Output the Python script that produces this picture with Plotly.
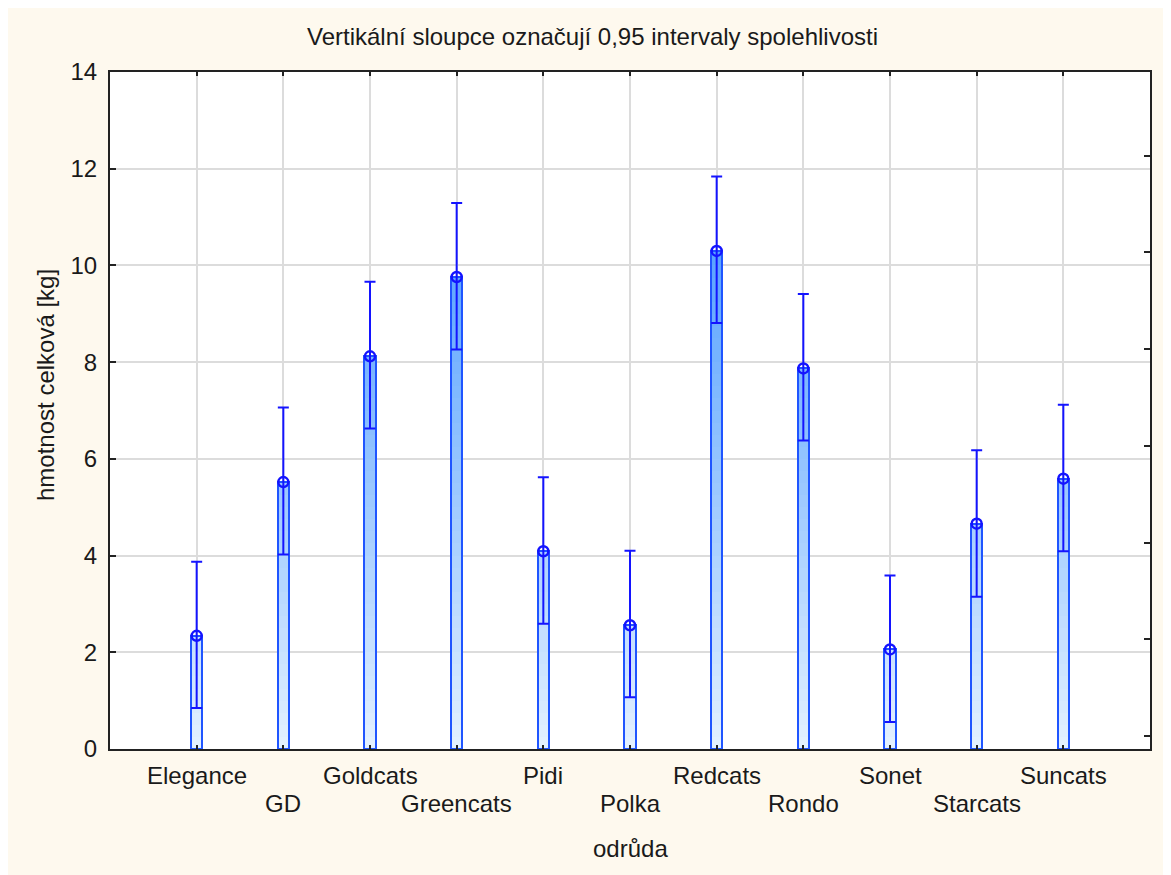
import plotly.graph_objects as go

# ---------------- data ----------------
categories = ["Elegance", "GD", "Goldcats", "Greencats", "Pidi", "Polka",
              "Redcats", "Rondo", "Sonet", "Starcats", "Suncats"]
means = [2.34, 5.52, 8.12, 9.76, 4.09, 2.56, 10.30, 7.87, 2.06, 4.66, 5.59]
upper = [3.87, 7.06, 9.66, 11.29, 5.62, 4.10, 11.84, 9.41, 3.59, 6.18, 7.12]
lower = [0.85, 4.02, 6.63, 8.26, 2.59, 1.07, 8.81, 6.38, 0.56, 3.15, 4.09]
y_ticks = [0, 2, 4, 6, 8, 10, 12, 14]
right_ticks = [0, 2, 4, 6, 8, 10, 12]

title_text = "Vertikální sloupce označují 0,95 intervaly spolehlivosti"
x_title = "odrůda"
y_title = "hmotnost celková [kg]"

# ---------------- layout geometry ----------------
OFF = 8                      # page body margin
W, H = 1171 - OFF, 875 - OFF
L, R, T, B = 110 - OFF, 21, 72 - OFF, 126
PW, PH = W - L - R, H - T - B


def px(x):
    """page x pixel -> paper coordinate"""
    return (x - OFF - L) / PW


def py(y):
    """page y pixel -> paper coordinate"""
    return (H - B - (y - OFF)) / PH


FONT = "Liberation Sans, Arial, sans-serif"
TXT = "#1a1a1a"
BLUE = "#1414ff"
EDGE = "#1f55ff"
CREAM = "#fef9ee"


def grad(v):
    t = max(0.0, min(1.0, v / 12.0))
    c0 = (228, 241, 255)
    c1 = (66, 150, 255)
    c = [round(a + (b - a) * t) for a, b in zip(c0, c1)]
    return "rgb(%d,%d,%d)" % tuple(c)


# gradient fill built as small stacked pieces of each bar
step = 0.25
seg_x, seg_base, seg_h, seg_col = [], [], [], []
for c, m in zip(categories, means):
    b = 0.0
    while b < m - 1e-9:
        h = min(step, m - b)
        seg_x.append(c)
        seg_base.append(b)
        seg_h.append(h + (0.02 if h == step else 0))
        seg_col.append(grad(b + h / 2))
        b += step

fig = go.Figure()

fig.add_trace(go.Bar(
    x=seg_x, y=seg_h, base=seg_base, width=0.13,
    marker=dict(color=seg_col, line=dict(width=0)),
    hoverinfo="skip", showlegend=False,
))

fig.add_trace(go.Bar(
    x=categories, y=means, width=0.13,
    marker=dict(color="rgba(0,0,0,0)", line=dict(color=EDGE, width=2)),
    showlegend=False,
))

fig.add_trace(go.Scatter(
    x=categories, y=means, mode="markers",
    marker=dict(symbol="circle-open", size=10, color=BLUE, line=dict(width=2.5, color=BLUE)),
    error_y=dict(type="data", symmetric=False,
                 array=[u - m for u, m in zip(upper, means)],
                 arrayminus=[m - l for m, l in zip(means, lower)],
                 color=BLUE, thickness=2, width=5.5),
    showlegend=False,
))

# dummy trace to activate the right-hand tick axis
fig.add_trace(go.Scatter(
    x=[categories[0]], y=[0], yaxis="y2", mode="markers",
    marker=dict(opacity=0), hoverinfo="skip", showlegend=False,
))

annotations = [
    dict(text=title_text, xref="paper", yref="paper", x=px(592), y=py(37),
         showarrow=False, font=dict(family=FONT, size=24, color=TXT),
         xanchor="center", yanchor="middle"),
    dict(text=x_title, xref="paper", yref="paper", x=0.5, y=py(848),
         showarrow=False, font=dict(family=FONT, size=24, color=TXT),
         xanchor="center", yanchor="middle"),
    dict(text=y_title, xref="paper", yref="paper", x=px(45), y=py(385),
         showarrow=False, textangle=-90, font=dict(family=FONT, size=24, color=TXT),
         xanchor="center", yanchor="middle"),
]
for i, c in enumerate(categories):
    row_y = 775 if i % 2 == 0 else 804
    annotations.append(dict(
        text=c, xref="x", yref="paper", x=c, y=py(row_y),
        showarrow=False, font=dict(family=FONT, size=24, color=TXT),
        xanchor="center", yanchor="middle"))

fig.update_layout(
    width=W, height=H,
    margin=dict(l=L, r=R, t=T, b=B, pad=0),
    paper_bgcolor=CREAM, plot_bgcolor="white",
    barmode="overlay", bargap=0,
    showlegend=False,
    font=dict(family=FONT, size=24, color=TXT),
    xaxis=dict(
        type="category", categoryorder="array", categoryarray=categories,
        range=[-1, 11], showgrid=True, gridcolor="#dcdcdc", gridwidth=1.5,
        showline=True, linecolor="#222222", linewidth=2, mirror="ticks",
        ticks="inside", ticklen=4, tickwidth=1.5, tickcolor="#222222",
        showticklabels=False, zeroline=False, fixedrange=True,
    ),
    yaxis=dict(
        range=[0, 14], tickvals=y_ticks, ticktext=[str(v) for v in y_ticks],
        showgrid=True, gridcolor="#dcdcdc", gridwidth=1.5,
        showline=True, linecolor="#222222", linewidth=2, mirror=True,
        ticks="inside", ticklen=6, tickwidth=1.5, tickcolor="#222222",
        tickfont=dict(family=FONT, size=24, color=TXT),
        ticklabelstandoff=6, zeroline=False, fixedrange=True,
    ),
    yaxis2=dict(
        overlaying="y", side="right", range=[-0.27, 13.73], tickvals=right_ticks,
        ticks="inside", ticklen=6, tickwidth=1.5, tickcolor="#222222",
        showticklabels=False, showgrid=False, showline=False, zeroline=False,
        fixedrange=True,
    ),
    annotations=annotations,
)

fig.write_html("out.html")
